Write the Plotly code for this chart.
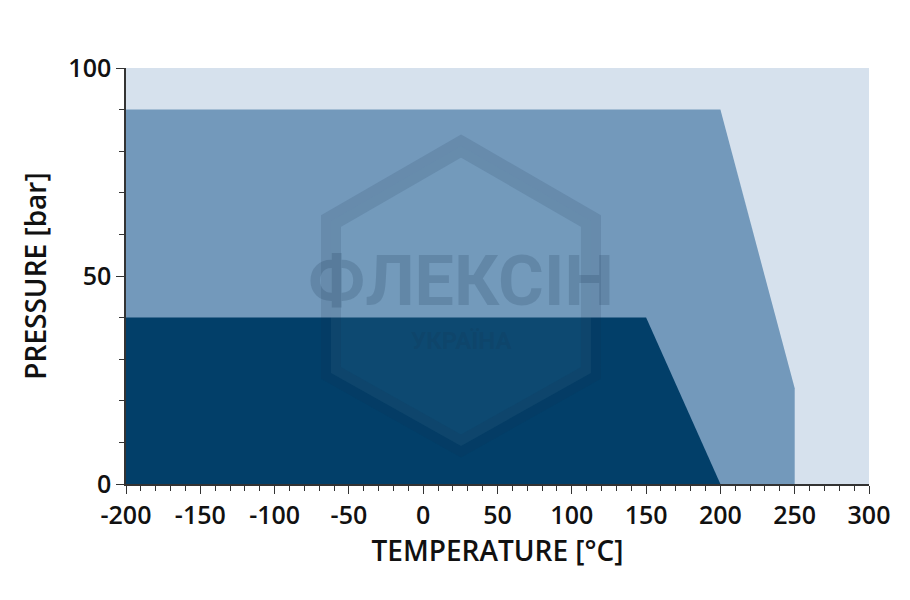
import plotly.graph_objects as go

# operating envelope (temperature °C, pressure bar)
outer_t = [-200, -200, 200, 250, 250]
outer_p = [0, 90, 90, 23, 0]
inner_t = [-200, -200, 150, 200]
inner_p = [0, 40, 40, 0]

x_ticks = [-200, -150, -100, -50, 0, 50, 100, 150, 200, 250, 300]
y_ticks = [0, 50, 100]

# page is drawn with an 8px body margin, so shift margins accordingly
OFF = 7
L, R, T, B = 125 - OFF, 42 + OFF, 67 - OFF, 117 + OFF
W, H = 910, 600


def px2paper(x, y):
    x, y = x - OFF, y - OFF
    return (x - L) / (W - L - R), (H - B - y) / (H - T - B)


fig = go.Figure()
fig.add_trace(go.Scatter(x=outer_t, y=outer_p, fill="toself", mode="lines",
                         line=dict(width=0), fillcolor="#7399bb", hoverinfo="skip"))
fig.add_trace(go.Scatter(x=inner_t, y=inner_p, fill="toself", mode="lines",
                         line=dict(width=0), fillcolor="#023f69", hoverinfo="skip"))

# faint logo watermark
hexpts = [(460, 145), (590, 220), (590, 372), (460, 445), (330, 372), (330, 220)]
pts = [px2paper(*p) for p in hexpts]
path = "M " + " L ".join(f"{a:.4f},{b:.4f}" for a, b in pts) + " Z"
fig.add_shape(type="path", path=path, xref="paper", yref="paper",
              line=dict(color="rgba(20,50,80,0.13)", width=20),
              fillcolor="rgba(120,170,190,0.10)")
x0, y0 = px2paper(460, 280)
fig.add_annotation(x=x0, y=y0, xref="paper", yref="paper", text="<b>ФЛЕКСІН</b>",
                   showarrow=False, font=dict(family="Roboto", size=70, color="rgba(20,50,80,0.18)"))
x1, y1 = px2paper(460, 356)
fig.add_annotation(x=x1, y=y1, xref="paper", yref="paper", text="<b>УКРАЇНА</b>",
                   showarrow=False, font=dict(family="Roboto", size=24, color="rgba(20,50,80,0.18)"))

font_ticks = dict(family="Open Sans", size=25, color="#111", weight=600)
font_title = dict(family="Open Sans", size=28, color="#111", weight=600)
axis_common = dict(showgrid=False, zeroline=False, showline=True, linecolor="#333",
                   linewidth=1.5, ticks="outside", ticklen=8, tickcolor="#333",
                   tickfont=font_ticks, mirror=False)
fig.update_xaxes(range=[-200, 300], tickvals=x_ticks, ticktext=[str(v) for v in x_ticks],
                 **axis_common,
                 minor=dict(dtick=10, ticks="outside", ticklen=5, tickcolor="#333"),
                 title=dict(text="TEMPERATURE [°C]", font=font_title, standoff=6))
fig.update_yaxes(range=[0, 100], tickvals=y_ticks, ticktext=[str(v) for v in y_ticks],
                 **axis_common,
                 minor=dict(dtick=10, ticks="outside", ticklen=5, tickcolor="#333"),
                 title=dict(text="PRESSURE [bar]", font=font_title, standoff=14))
fig.update_layout(width=W, height=H, margin=dict(l=L, r=R, t=T, b=B),
                  plot_bgcolor="#d6e1ed", paper_bgcolor="white", showlegend=False)
fig.write_html("out.html")
